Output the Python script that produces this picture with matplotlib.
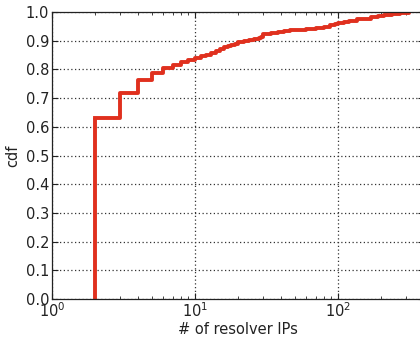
import matplotlib
matplotlib.use("Agg")
import matplotlib.pyplot as plt
from matplotlib.ticker import LogLocator, NullFormatter

# number of resolver IPs (step positions) and the cdf reached at each
n_ips = [2, 3, 4, 5, 6, 7, 8, 9, 10, 11, 12, 13, 14, 15, 16, 17, 18, 19, 20,
         22, 24, 26, 28, 29, 30, 31, 34, 38, 42, 46, 52, 60, 70, 80, 88, 95,
         100, 110, 120, 135, 150, 170, 190, 210, 240, 270, 314]
cdf = [0.631, 0.718, 0.764, 0.789, 0.805, 0.817, 0.826, 0.832, 0.838,
       0.845, 0.851, 0.857, 0.863, 0.870, 0.878, 0.882, 0.886, 0.890, 0.894,
       0.899, 0.903, 0.907, 0.911, 0.913, 0.922, 0.925, 0.928, 0.931, 0.934,
       0.936, 0.939, 0.942, 0.945, 0.948, 0.953, 0.958, 0.962, 0.966, 0.970,
       0.974, 0.977, 0.981, 0.985, 0.989, 0.993, 0.996, 1.0]

plt.rcParams['font.family'] = ['DejaVu Sans']
plt.rcParams['font.size'] = 10.5

fig = plt.figure(figsize=(4.2, 3.38), dpi=100)
ax = fig.add_axes([52 / 420, 39 / 338, 372 / 420, 287 / 338])

red = '#e0301e'
ax.step(n_ips, cdf, where='post', color=red, lw=2.8)
ax.vlines(n_ips[0], 0, cdf[0], color=red, lw=2.8)

ax.set_xscale('log')
ax.set_xlim(1, 400)
ax.set_ylim(0, 1.0)
ax.set_yticks([i / 10 for i in range(11)])
ax.xaxis.set_minor_locator(LogLocator(base=10, subs=range(2, 10)))
ax.xaxis.set_minor_formatter(NullFormatter())
ax.tick_params(which='both', direction='in', top=True, right=True,
               colors='#222222', labelcolor='#222222')
ax.tick_params(which='major', length=4, pad=2)
ax.tick_params(which='minor', length=2)
ax.grid(True, which='major', color='#333333', linestyle=(0, (1, 2)), lw=0.9)
for s in ax.spines.values():
    s.set_linewidth(0.9)
    s.set_color('#222222')

ax.set_xlabel('# of resolver IPs', labelpad=1, color='#222222')
ax.set_ylabel('cdf', labelpad=4, color='#222222')

fig.savefig('out.png', dpi=100)
